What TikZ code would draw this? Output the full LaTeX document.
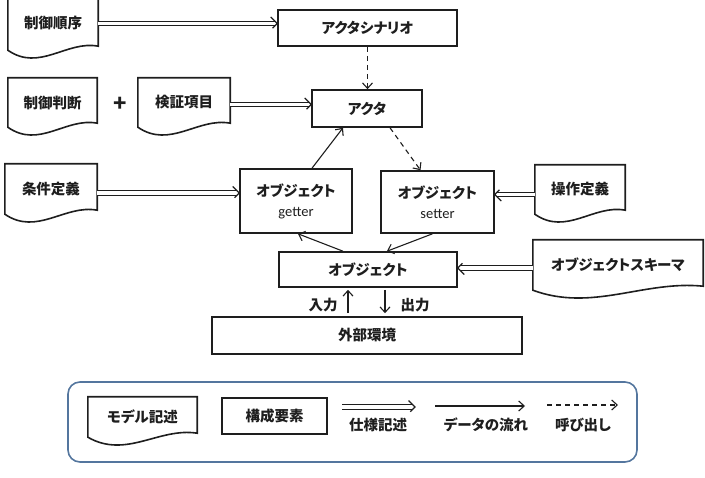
\documentclass[tikz,border=0pt]{standalone}
\usepackage{fontspec}
\setmainfont{Noto Sans CJK JP}[RawFeature=+palt]
\newfontfamily\latinf{Carlito}
\usetikzlibrary{arrows.meta,calc,decorations.markings}
\definecolor{legendblue}{RGB}{84,118,158}
\definecolor{inkc}{RGB}{30,30,30}
\tikzset{
  jp/.style={font=\fontsize{14.5}{20}\selectfont\bfseries, text=inkc},
  boxnode/.style={draw=inkc, line width=1.6pt, inner sep=0pt, align=center, jp},
  docbox/.style={inner sep=0pt, align=center, jp},
  docline/.style={draw=inkc, line width=1.6pt},
  spec/.style={draw=inkc, double, double distance=3.4pt, line width=1.2pt, shorten >=2.6pt,
    postaction={decorate, decoration={markings, mark=at position 1 with {\draw[draw=inkc, line width=1.2pt, line join=miter, solid] (-6.5pt,6.5pt) -- (0pt,0pt) -- (-6.5pt,-6.5pt);}}}},
  flow/.style={draw=inkc, line width=1.1pt, -{Straight Barb[length=5.5pt,width=10pt]}},
  callarrow/.style={flow, dash pattern=on 5pt off 4pt},
  lbl/.style={jp, inner sep=0pt},
}
\newcommand\docnode[6]{%
  \pgfmathsetmacro\dw{#4-#2}\pgfmathsetmacro\dh{#5-#3}%
  \node[docbox, minimum width=\dw pt, minimum height=\dh pt] (#1) at ({(#2+#4)/2},{(#3+#5)/2}) {#6};
  \draw[docline] (#1.south west) -- (#1.north west) -- (#1.north east) -- ([yshift=4pt]#1.south east)
    .. controls ($(#1.south east)!0.35!(#1.south west)+(0,-10)$) and ($(#1.south east)!0.65!(#1.south west)+(0,22)$) .. (#1.south west) -- cycle;
}
\begin{document}
\begin{tikzpicture}[x=1pt,y=-1pt]
\useasboundingbox (0,0) rectangle (705,478);
% documents
\docnode{d1}{8}{-3}{98}{50}{制御順序}
\docnode{d2}{8}{78}{97}{127}{制御判断}
\docnode{d3}{138}{78}{230}{127}{検証項目}
\docnode{d4}{5}{164}{97}{214}{条件定義}
\docnode{d5}{535}{165}{625}{214}{操作定義}
\docnode{d6}{533}{240}{703}{290}{オブジェクトスキーマ}
% boxes
\node[boxnode, minimum width=179pt, minimum height=36pt] (scen) at (367.5,28) {アクタシナリオ};
\node[boxnode, minimum width=110pt, minimum height=37pt] (actor) at (367,108.5) {アクタ};
\node[boxnode, minimum width=112pt, minimum height=64pt] (getter) at (296,201) {オブジェクト\\{\latinf\mdseries getter}};
\node[boxnode, minimum width=113pt, minimum height=62pt] (setter) at (437.5,202) {オブジェクト\\{\latinf\mdseries setter}};
\node[boxnode, minimum width=178pt, minimum height=35pt] (obj) at (368,269.5) {オブジェクト};
\node[boxnode, minimum width=310pt, minimum height=37pt] (env) at (367,335.5) {外部環境};
\node[lbl, font=\fontsize{22}{22}\selectfont\bfseries] (plus) at (120,104) {+};
% spec arrows
\draw[spec] (d1.east) coordinate (t1) -- (t1 -| scen.west);
\draw[spec] ([yshift=-2pt]d3.east) coordinate (t2) -- (t2 -| actor.west);
\draw[spec] ([yshift=-4pt]d4.east) coordinate (t3) -- (t3 -| getter.west);
\draw[spec] ([yshift=-5pt]d5.west) coordinate (t4) -- (t4 -| setter.east);
\draw[spec] ([yshift=-3pt]d6.west) coordinate (t5) -- (t5 -| obj.east);
% calls and flows
\draw[callarrow] (scen.south) -- (scen.south |- actor.north);
\draw[flow] ([xshift=16pt]getter.north) -- ([xshift=-24pt]actor.south);
\draw[callarrow] ([xshift=23pt]actor.south) -- ([xshift=-17pt]setter.north);
\draw[flow] ([xshift=-25pt]obj.north) -- ([xshift=2pt]getter.south);
\draw[flow] ([xshift=-5pt]setter.south) -- ([xshift=19pt]obj.north);
\coordinate (inx) at (348,0);
\coordinate (outx) at (385,0);
\draw[flow, shorten <=3pt, shorten >=2pt] (inx |- env.north) -- (inx |- obj.south);
\draw[flow, shorten <=2pt, shorten >=3pt] (outx |- obj.south) -- (outx |- env.north);
\node[lbl] (inl) at (323,305) {入力};
\node[lbl] (outl) at (415,305) {出力};
% legend
\node[draw=legendblue, line width=1.6pt, rounded corners=12pt, minimum width=569pt, minimum height=80pt, inner sep=0pt] (legend) at (352.5,422) {};
\docnode{d7}{88}{397}{197}{437}{モデル記述}
\node[boxnode, minimum width=105pt, minimum height=36pt] (legbox) at (274.5,416) {構成要素};
\coordinate (l1a) at (342,407); \coordinate (l1b) at (415,407);
\coordinate (l2a) at (435,406); \coordinate (l2b) at (525,406);
\coordinate (l3a) at (547,405); \coordinate (l3b) at (618,405);
\draw[spec] (l1a) -- (l1b);
\draw[flow] (l2a) -- (l2b);
\draw[callarrow] (l3a) -- (l3b);
\node[lbl] (ll1) at (378,425) {仕様記述};
\node[lbl] (ll2) at (486,425) {データの流れ};
\node[lbl] (ll3) at (583,425) {呼び出し};
\end{tikzpicture}
\end{document}
